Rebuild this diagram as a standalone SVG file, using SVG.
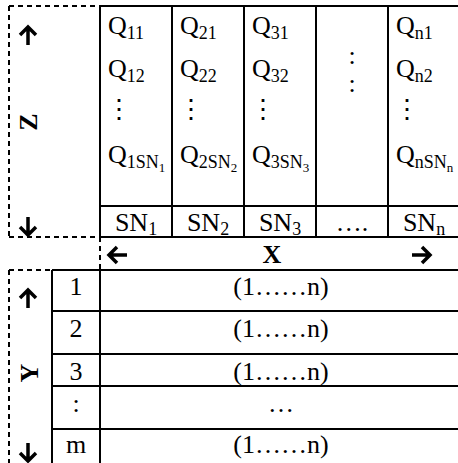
<svg xmlns="http://www.w3.org/2000/svg" xmlns:xlink="http://www.w3.org/1999/xlink" width="458" height="463" viewBox="0 0 458 463">
  <style>
    .t { font-family: "Liberation Serif", "Times New Roman", serif; font-size: 26px; fill: #000; }
    .b { font-weight: bold; }
    .c { text-anchor: middle; }
    .sub { font-size: 18px; }
    .sub2 { font-size: 13px; }
    .solid { stroke: #000; stroke-width: 2; fill: none; }
    .dash { stroke: #000; stroke-width: 2; fill: none; stroke-dasharray: 5 4; }
    .arw { stroke: #000; stroke-width: 3.5; fill: none; stroke-linejoin: miter; }
  </style>
  <defs>
    <!-- bold arrow pointing up, centred on the origin -->
    <g id="arrowUp">
      <path class="arw" d="M0,10 V-8 M-8,0 L0,-8 L8,0"/>
    </g>
  </defs>
  <rect width="458" height="463" fill="#fff"/>

  <!-- grid lines -->
  <g id="connectors">
    <!-- Z frame (dashed) -->
    <path class="dash" d="M9,6 H100 M9,6 V237 M9,237 H100 M100,237 V270"/>
    <!-- upper table -->
    <path class="solid" d="M100,6 H458 M100,206 H458 M100,237 H458"/>
    <path class="solid" d="M100,6 V237 M172,6 V237 M244,6 V237 M316,6 V237 M388,6 V237"/>
    <!-- Y frame (dashed) -->
    <path class="dash" d="M9,270 H52 M9,270 V463"/>
    <!-- lower table -->
    <path class="solid" d="M52,270 H458 M52,311 H458 M52,354 H458 M52,386 H458 M52,429 H458"/>
    <path class="solid" d="M52,270 V463 M100,270 V463"/>
    <!-- axis arrows -->
    <use xlink:href="#arrowUp" transform="translate(28,35)"/>
    <use xlink:href="#arrowUp" transform="translate(28,227) rotate(180)"/>
    <use xlink:href="#arrowUp" transform="translate(117,255) rotate(-90)"/>
    <use xlink:href="#arrowUp" transform="translate(422,255) rotate(90)"/>
    <use xlink:href="#arrowUp" transform="translate(28,298)"/>
    <use xlink:href="#arrowUp" transform="translate(28,453) rotate(180)"/>
  </g>

  <!-- axis labels -->
  <g id="axis-z"><text class="t b c" transform="translate(28,122) rotate(-90)" y="9">Z</text></g>
  <g id="axis-x"><text class="t b c" x="272" y="263">X</text></g>
  <g id="axis-y"><text class="t b c" transform="translate(29,373) rotate(-90)" y="9">Y</text></g>

  <!-- upper table columns -->
  <g id="col-1" class="t">
    <text x="108" y="34">Q<tspan class="sub" dy="5">11</tspan></text>
    <text x="108" y="77">Q<tspan class="sub" dy="5">12</tspan></text>
    <text x="106" y="118">⋮</text>
    <text x="108" y="163">Q<tspan class="sub" dy="5">1SN</tspan><tspan class="sub2" dy="4">1</tspan></text>
    <text class="c" x="136" y="231">SN<tspan class="sub" dy="4">1</tspan></text>
  </g>
  <g id="col-2" class="t">
    <text x="180" y="34">Q<tspan class="sub" dy="5">21</tspan></text>
    <text x="180" y="77">Q<tspan class="sub" dy="5">22</tspan></text>
    <text x="178" y="118">⋮</text>
    <text x="180" y="163">Q<tspan class="sub" dy="5">2SN</tspan><tspan class="sub2" dy="4">2</tspan></text>
    <text class="c" x="208" y="231">SN<tspan class="sub" dy="4">2</tspan></text>
  </g>
  <g id="col-3" class="t">
    <text x="252" y="34">Q<tspan class="sub" dy="5">31</tspan></text>
    <text x="252" y="77">Q<tspan class="sub" dy="5">32</tspan></text>
    <text x="250" y="118">⋮</text>
    <text x="252" y="163">Q<tspan class="sub" dy="5">3SN</tspan><tspan class="sub2" dy="4">3</tspan></text>
    <text class="c" x="280" y="231">SN<tspan class="sub" dy="4">3</tspan></text>
  </g>
  <g id="col-4" class="t">
    <text class="c" x="352" y="64">:</text>
    <text class="c" x="352" y="92">:</text>
    <text class="c" x="352" y="231">….</text>
  </g>
  <g id="col-n" class="t">
    <text x="396" y="34">Q<tspan class="sub" dy="5">n1</tspan></text>
    <text x="396" y="77">Q<tspan class="sub" dy="5">n2</tspan></text>
    <text x="394" y="118">⋮</text>
    <text x="396" y="163">Q<tspan class="sub" dy="5">nSN</tspan><tspan class="sub2" dy="4">n</tspan></text>
    <text class="c" x="424" y="231">SN<tspan class="sub" dy="4">n</tspan></text>
  </g>

  <!-- lower table rows -->
  <g id="row-1" class="t c">
    <text x="76" y="295">1</text>
    <text x="281" y="295">(1……n)</text>
  </g>
  <g id="row-2" class="t c">
    <text x="76" y="337">2</text>
    <text x="281" y="337">(1……n)</text>
  </g>
  <g id="row-3" class="t c">
    <text x="76" y="380">3</text>
    <text x="281" y="380">(1……n)</text>
  </g>
  <g id="row-dots" class="t c">
    <text x="76" y="412">:</text>
    <text x="281" y="412">…</text>
  </g>
  <g id="row-m" class="t c">
    <text x="76" y="453">m</text>
    <text x="281" y="453">(1……n)</text>
  </g>
</svg>
